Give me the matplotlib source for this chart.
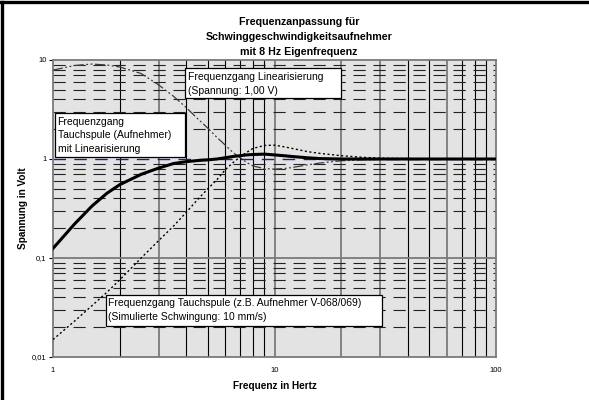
import matplotlib
matplotlib.use("Agg")
import matplotlib.pyplot as plt
from matplotlib.patches import Rectangle
from matplotlib.lines import Line2D
from matplotlib.ticker import FuncFormatter, FixedLocator, NullLocator

plt.rcParams["font.family"] = ["Liberation Sans", "DejaVu Sans"]

# frequency response data (Hz / Volt)
freq = [1, 1.25, 1.5, 1.75, 2, 2.5, 3, 3.5, 4, 4.5, 5, 5.5, 6, 6.5, 7, 7.5,
        8, 9, 10, 11, 12, 14, 16, 20, 25, 30, 40, 50, 70, 100]

tauchspule = [0.015, 0.023, 0.033, 0.045, 0.06, 0.10, 0.15, 0.21, 0.29, 0.39,
              0.50, 0.62, 0.78, 0.92, 1.05, 1.17, 1.28, 1.37, 1.38, 1.33,
              1.28, 1.19, 1.14, 1.08, 1.04, 1.02, 1.01, 1.0, 1.0, 1.0]

linearisierung = [7.9, 8.8, 9.1, 8.9, 8.5, 7.3, 5.6, 4.3, 3.3, 2.55,
                  2.05, 1.65, 1.38, 1.16, 1.03, 0.92, 0.85, 0.80, 0.79, 0.80,
                  0.82, 0.87, 0.91, 0.96, 0.98, 0.99, 1.0, 1.0, 1.0, 1.0]

mit_linearisierung = [0.125, 0.22, 0.335, 0.45, 0.55, 0.70, 0.81, 0.90, 0.94, 0.965,
                      0.98, 1.0, 1.03, 1.06, 1.08, 1.10, 1.11, 1.12, 1.10, 1.08,
                      1.06, 1.03, 1.01, 1.0, 1.0, 1.0, 1.0, 1.0, 1.0, 1.0]

title_lines = ["Frequenzanpassung für",
               "Schwinggeschwindigkeitsaufnehmer",
               "mit 8 Hz Eigenfrequenz"]

W, H = 589, 400
fig = plt.figure(figsize=(W / 100, H / 100), dpi=100)

# plot area in pixels: x 53..496, y 60..357
ax = fig.add_axes([53 / W, 1 - 357 / H, (496 - 53) / W, (357 - 60) / H])
ax.set_facecolor("#e3e3e3")
ax.set_xscale("log")
ax.set_yscale("log")
ax.set_xlim(1, 100)
ax.set_ylim(0.01, 10)

# vertical grid
grey_x = [3, 10, 20, 30, 60]
for dec in [1, 10]:
    for m in range(2, 10):
        xv = dec * m
        if xv in grey_x:
            ax.axvline(xv, color="#7a7a7a", lw=1.3, zorder=1)
        else:
            ax.axvline(xv, color="black", lw=0.8, zorder=1)
ax.axvline(10, color="#7a7a7a", lw=1.3, zorder=1)

# horizontal grid
for dec in [0.01, 0.1, 1]:
    for m in range(2, 10):
        ax.axhline(dec * m, color="#222222", lw=0.8, ls=(0, (11, 7)), zorder=1)
ax.axhline(0.1, color="#7a7a7a", lw=1.3, zorder=1)
ax.axhline(1, color="#1c1c8c", lw=1.0, ls=(0, (9, 6)), zorder=1)

for s in ax.spines.values():
    s.set_color("#7a7a7a")
    s.set_linewidth(1.3)

# curves
ax.plot(freq, tauchspule, color="black", lw=1.0, ls=(0, (1.5, 1.8)), zorder=3)
ax.plot(freq, linearisierung, color="#3a3a3a", lw=0.9,
        ls=(0, (8, 2, 1.5, 2, 1.5, 2)), zorder=3)
ax.plot(freq, mit_linearisierung, color="black", lw=2.2, zorder=4)

# axes ticks
ax.xaxis.set_major_locator(FixedLocator([1, 10, 100]))
ax.yaxis.set_major_locator(FixedLocator([0.01, 0.1, 1, 10]))
ax.xaxis.set_minor_locator(NullLocator())
ax.yaxis.set_minor_locator(NullLocator())
ax.xaxis.set_major_formatter(FuncFormatter(lambda v, p: f"{v:g}"))
ax.yaxis.set_major_formatter(FuncFormatter(lambda v, p: f"{v:g}".replace(".", ",")))
ax.tick_params(axis="x", length=0, pad=7, labelsize=5.5)
ax.tick_params(axis="y", length=3, width=0.8, color="black", pad=1.5, labelsize=5.5)

ax.set_xlabel("Frequenz in Hertz", fontsize=7.2, fontweight="bold", labelpad=5)
ax.set_ylabel("Spannung in Volt", fontsize=7.2, fontweight="bold", labelpad=3)

# title
for i, line in enumerate(title_lines):
    fig.text(299 / W, 1 - (22 + 15 * i) / H, line, ha="center", va="center",
             fontsize=7.7, fontweight="bold")


def px_box(x0, y0, x1, y1, lines, line_y):
    # white note box with black frame, given in figure pixels
    fig.patches.append(Rectangle((x0 / W, 1 - y1 / H), (x1 - x0) / W, (y1 - y0) / H,
                                 transform=fig.transFigure, facecolor="white",
                                 edgecolor="black", lw=0.9, zorder=5))
    for txt, yy in zip(lines, line_y):
        fig.text((x0 + 2.5) / W, 1 - yy / H, txt, ha="left", va="center",
                 fontsize=7.5, zorder=6)


px_box(185, 68, 341, 98,
       ["Frequenzgang Linearisierung", "(Spannung: 1,00 V)"], [77, 90.5])
px_box(55, 113, 185, 157,
       ["Frequenzgang", "Tauchspule (Aufnehmer)", "mit Linearisierung"],
       [122, 135.5, 149])
px_box(106, 295, 382, 326,
       ["Frequenzgang Tauchspule (z.B. Aufnehmer V-068/069)",
        "(Simulierte Schwingung: 10 mm/s)"], [303.5, 317])

# outer chart frame (top and left edge)
fig.lines.append(Line2D([1.5 / W, 1.5 / W], [0, 1 - 1.5 / H], transform=fig.transFigure,
                        color="black", lw=2.4))
fig.lines.append(Line2D([0, 1], [1 - 1.5 / H, 1 - 1.5 / H], transform=fig.transFigure,
                        color="black", lw=2.4))

fig.savefig("out.png", dpi=100)
